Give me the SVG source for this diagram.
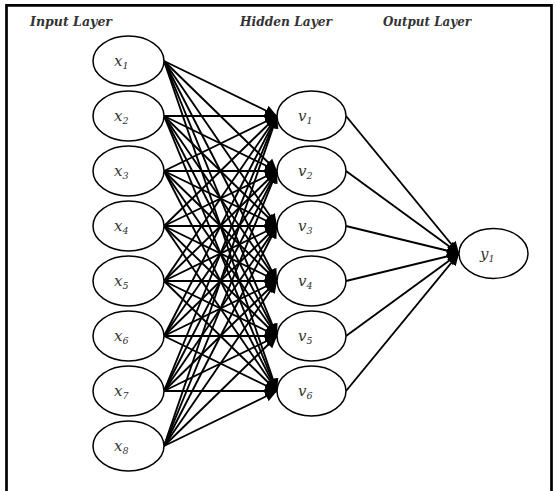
<svg xmlns="http://www.w3.org/2000/svg" width="556" height="491" viewBox="0 0 556 491">
<defs>
<marker id="ah" markerUnits="userSpaceOnUse" markerWidth="13" markerHeight="11" refX="12" refY="5.5" orient="auto">
<path d="M0,0 L12,5.5 L0,11 z" fill="#000"/>
</marker>
<style>
.frame{stroke:#000;stroke-width:2.7;fill:none}
.title{font-family:"DejaVu Serif",serif;font-style:italic;font-weight:bold;font-size:12px;fill:#333}
.node ellipse{fill:#fff;stroke:#000;stroke-width:1.5}
.lbl{font-family:"DejaVu Serif",serif;font-style:italic;font-size:15px;fill:#333}
.sub{font-size:9.5px}
#connectors line{stroke:#000;stroke-width:1.9;marker-end:url(#ah)}
</style>
</defs>
<rect width="556" height="491" fill="#fff"/>
<path class="frame" d="M6.5,491 V5.3 H551.5 V491"/>
<text class="title" x="30" y="26" textLength="82" lengthAdjust="spacingAndGlyphs">Input Layer</text>
<text class="title" x="240" y="26" textLength="92" lengthAdjust="spacingAndGlyphs">Hidden Layer</text>
<text class="title" x="383" y="26" textLength="88" lengthAdjust="spacingAndGlyphs">Output Layer</text>
<g id="connectors">
<line x1="164" y1="61" x2="277" y2="116"/><line x1="164" y1="61" x2="277" y2="171"/><line x1="164" y1="61" x2="277" y2="226"/><line x1="164" y1="61" x2="277" y2="281"/><line x1="164" y1="61" x2="277" y2="336"/><line x1="164" y1="61" x2="277" y2="391"/>
<line x1="164" y1="116" x2="277" y2="116"/><line x1="164" y1="116" x2="277" y2="171"/><line x1="164" y1="116" x2="277" y2="226"/><line x1="164" y1="116" x2="277" y2="281"/><line x1="164" y1="116" x2="277" y2="336"/><line x1="164" y1="116" x2="277" y2="391"/>
<line x1="164" y1="171" x2="277" y2="116"/><line x1="164" y1="171" x2="277" y2="171"/><line x1="164" y1="171" x2="277" y2="226"/><line x1="164" y1="171" x2="277" y2="281"/><line x1="164" y1="171" x2="277" y2="336"/><line x1="164" y1="171" x2="277" y2="391"/>
<line x1="164" y1="226" x2="277" y2="116"/><line x1="164" y1="226" x2="277" y2="171"/><line x1="164" y1="226" x2="277" y2="226"/><line x1="164" y1="226" x2="277" y2="281"/><line x1="164" y1="226" x2="277" y2="336"/><line x1="164" y1="226" x2="277" y2="391"/>
<line x1="164" y1="281" x2="277" y2="116"/><line x1="164" y1="281" x2="277" y2="171"/><line x1="164" y1="281" x2="277" y2="226"/><line x1="164" y1="281" x2="277" y2="281"/><line x1="164" y1="281" x2="277" y2="336"/><line x1="164" y1="281" x2="277" y2="391"/>
<line x1="164" y1="336" x2="277" y2="116"/><line x1="164" y1="336" x2="277" y2="171"/><line x1="164" y1="336" x2="277" y2="226"/><line x1="164" y1="336" x2="277" y2="281"/><line x1="164" y1="336" x2="277" y2="336"/><line x1="164" y1="336" x2="277" y2="391"/>
<line x1="164" y1="391" x2="277" y2="116"/><line x1="164" y1="391" x2="277" y2="171"/><line x1="164" y1="391" x2="277" y2="226"/><line x1="164" y1="391" x2="277" y2="281"/><line x1="164" y1="391" x2="277" y2="336"/><line x1="164" y1="391" x2="277" y2="391"/>
<line x1="164" y1="446" x2="277" y2="116"/><line x1="164" y1="446" x2="277" y2="171"/><line x1="164" y1="446" x2="277" y2="226"/><line x1="164" y1="446" x2="277" y2="281"/><line x1="164" y1="446" x2="277" y2="336"/><line x1="164" y1="446" x2="277" y2="391"/>
<line x1="346" y1="116" x2="459" y2="253.5"/><line x1="346" y1="171" x2="459" y2="253.5"/><line x1="346" y1="226" x2="459" y2="253.5"/><line x1="346" y1="281" x2="459" y2="253.5"/><line x1="346" y1="336" x2="459" y2="253.5"/><line x1="346" y1="391" x2="459" y2="253.5"/>
</g>
<g id="x1" class="node"><ellipse cx="128.5" cy="61" rx="35.5" ry="25"/><text class="lbl" x="114" y="66">x<tspan class="sub" dy="3">1</tspan></text></g>
<g id="x2" class="node"><ellipse cx="128.5" cy="116" rx="35.5" ry="25"/><text class="lbl" x="114" y="121">x<tspan class="sub" dy="3">2</tspan></text></g>
<g id="x3" class="node"><ellipse cx="128.5" cy="171" rx="35.5" ry="25"/><text class="lbl" x="114" y="176">x<tspan class="sub" dy="3">3</tspan></text></g>
<g id="x4" class="node"><ellipse cx="128.5" cy="226" rx="35.5" ry="25"/><text class="lbl" x="114" y="231">x<tspan class="sub" dy="3">4</tspan></text></g>
<g id="x5" class="node"><ellipse cx="128.5" cy="281" rx="35.5" ry="25"/><text class="lbl" x="114" y="286">x<tspan class="sub" dy="3">5</tspan></text></g>
<g id="x6" class="node"><ellipse cx="128.5" cy="336" rx="35.5" ry="25"/><text class="lbl" x="114" y="341">x<tspan class="sub" dy="3">6</tspan></text></g>
<g id="x7" class="node"><ellipse cx="128.5" cy="391" rx="35.5" ry="25"/><text class="lbl" x="114" y="396">x<tspan class="sub" dy="3">7</tspan></text></g>
<g id="x8" class="node"><ellipse cx="128.5" cy="446" rx="35.5" ry="25"/><text class="lbl" x="114" y="451">x<tspan class="sub" dy="3">8</tspan></text></g>
<g id="v1" class="node"><ellipse cx="311.5" cy="116" rx="34.5" ry="25"/><text class="lbl" x="298" y="121">v<tspan class="sub" dy="3">1</tspan></text></g>
<g id="v2" class="node"><ellipse cx="311.5" cy="171" rx="34.5" ry="25"/><text class="lbl" x="298" y="176">v<tspan class="sub" dy="3">2</tspan></text></g>
<g id="v3" class="node"><ellipse cx="311.5" cy="226" rx="34.5" ry="25"/><text class="lbl" x="298" y="231">v<tspan class="sub" dy="3">3</tspan></text></g>
<g id="v4" class="node"><ellipse cx="311.5" cy="281" rx="34.5" ry="25"/><text class="lbl" x="298" y="286">v<tspan class="sub" dy="3">4</tspan></text></g>
<g id="v5" class="node"><ellipse cx="311.5" cy="336" rx="34.5" ry="25"/><text class="lbl" x="298" y="341">v<tspan class="sub" dy="3">5</tspan></text></g>
<g id="v6" class="node"><ellipse cx="311.5" cy="391" rx="34.5" ry="25"/><text class="lbl" x="298" y="396">v<tspan class="sub" dy="3">6</tspan></text></g>
<g id="y1" class="node"><ellipse cx="493.5" cy="253.5" rx="34.5" ry="25"/><text class="lbl" x="480" y="258.5">y<tspan class="sub" dy="3">1</tspan></text></g>
</svg>
